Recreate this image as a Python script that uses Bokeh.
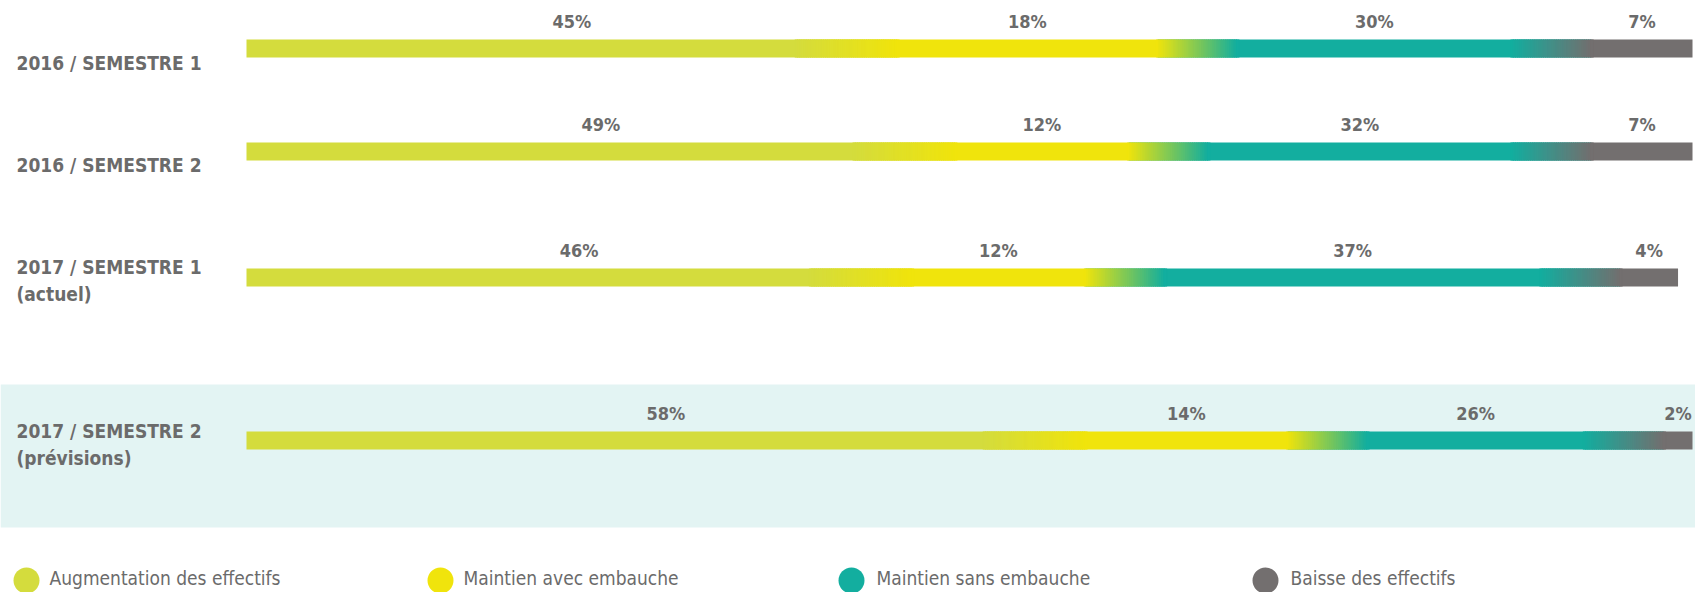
import math
from bokeh.plotting import figure
from bokeh.models import Range1d
from bokeh.embed import file_html
from bokeh.resources import INLINE
from bokeh.core.properties import value

# ---------------- data ----------------
periods = ["2016 / SEMESTRE 1", "2016 / SEMESTRE 2",
           "2017 / SEMESTRE 1\n(actuel)", "2017 / SEMESTRE 2\n(prévisions)"]
categories = ["Augmentation des effectifs", "Maintien avec embauche",
              "Maintien sans embauche", "Baisse des effectifs"]
augmentation = [45, 49, 46, 58]
maintien_avec = [18, 12, 12, 14]
maintien_sans = [30, 32, 37, 26]
baisse = [7, 7, 4, 2]

# ---------------- styles / layout ----------------
colors = ["#d4dc3d", "#f0e40c", "#13ae9f", "#736f6f"]
text_color = "#6b6b6b"
band_color = "#e3f4f3"
FONT = "'DejaVu Sans Condensed', Roboto, sans-serif"
BAR_X0 = 246.0          # page px where 0 % sits
PX_PER_PCT = 14.46      # px per percent
row_y = [48, 151, 277, 440]          # bar centres (page px)
label_y = [62, 164, 280, 444]        # row label centres
bar_h = 18
band_top, band_bottom = 384, 527
legend_dot_x = [26, 440, 851, 1265]
legend_txt_x = [49, 463, 876, 1290]
legend_y = 577
W, H = 1695, 592
OX, OY = 0, 0

p = figure(width=W, height=H,
           x_range=Range1d((OX - BAR_X0) / PX_PER_PCT, (OX + W - BAR_X0) / PX_PER_PCT),
           y_range=Range1d(OY + H, OY),
           output_backend="svg", toolbar_location=None, min_border=0)
p.extra_x_ranges = {"px": Range1d(OX, OX + W)}
p.axis.visible = False
p.grid.visible = False
p.outline_line_color = None
p.background_fill_color = "white"
p.border_fill_color = "white"

# highlighted band (forecast row)
p.quad(left=[OX], right=[OX + W], top=[band_top], bottom=[band_bottom],
       x_range_name="px", fill_color=band_color, line_color=None)

series = [augmentation, maintien_avec, maintien_sans, baisse]


def hex2rgb(h):
    h = h.lstrip("#")
    return tuple(int(h[i:i + 2], 16) for i in (0, 2, 4))


def interp(c1, c2, t):
    a, b = hex2rgb(c1), hex2rgb(c2)
    return "#%02x%02x%02x" % tuple(int(round(a[k] + (b[k] - a[k]) * t)) for k in range(3))


# solid segments
for j, vals in enumerate(series):
    lefts, rights = [], []
    for i in range(len(periods)):
        start = sum(series[k][i] for k in range(j))
        lefts.append(start)
        rights.append(start + vals[i])
    p.hbar(y=row_y, left=lefts, right=rights, height=bar_h,
           fill_color=colors[j], line_color=None)

# gradient transitions
w1, w2, w3 = 7.0, 5.5, 5.5
step = 0.15
for i in range(len(periods)):
    b1 = augmentation[i]
    b2 = b1 + maintien_avec[i]
    b3 = b2 + maintien_sans[i]
    zones = [(b1 - w1, b1, colors[0], colors[1]),
             (b2, b2 + w2, colors[1], colors[2]),
             (b3 - w3, b3, colors[2], colors[3])]
    L, R, C = [], [], []
    for a, b, ca, cb in zones:
        n = int(math.ceil((b - a) / step))
        d = (b - a) / n
        for k in range(n + 1):
            l = a + (k - 0.5) * d
            L.append(l)
            R.append(l + d * 1.5)
            C.append(interp(ca, cb, k / n))
    p.hbar(y=[row_y[i]] * len(L), left=L, right=R, height=bar_h - 0.5,
           fill_color=C, line_color=C, line_width=0.5)

# percentage labels
tx, ty, tt = [], [], []
for i in range(len(periods)):
    cum = 0
    for vals in series:
        v = vals[i]
        tx.append(cum + v / 2)
        ty.append(row_y[i] - 27)
        tt.append(f"{v}%")
        cum += v
p.text(x=tx, y=ty, text=tt, text_align="center", text_baseline="middle",
       text_font=value(FONT), text_font_style="bold", text_font_size="18px",
       text_color=text_color)

# row labels
p.text(x=[16] * len(periods), y=label_y, text=periods, x_range_name="px",
       text_align="left", text_baseline="middle", text_line_height=1.25,
       text_font=value(FONT), text_font_style="bold", text_font_size="19px",
       text_color=text_color)

# legend
p.scatter(x=legend_dot_x, y=[legend_y + 3] * 4, size=26, marker="circle",
          fill_color=colors, line_color=None, x_range_name="px")
p.text(x=legend_txt_x, y=[legend_y] * 4, text=categories, x_range_name="px",
       text_align="left", text_baseline="middle",
       text_font=value(FONT), text_font_size="19px", text_color=text_color)

open("out.html", "w").write(file_html(p, INLINE))
